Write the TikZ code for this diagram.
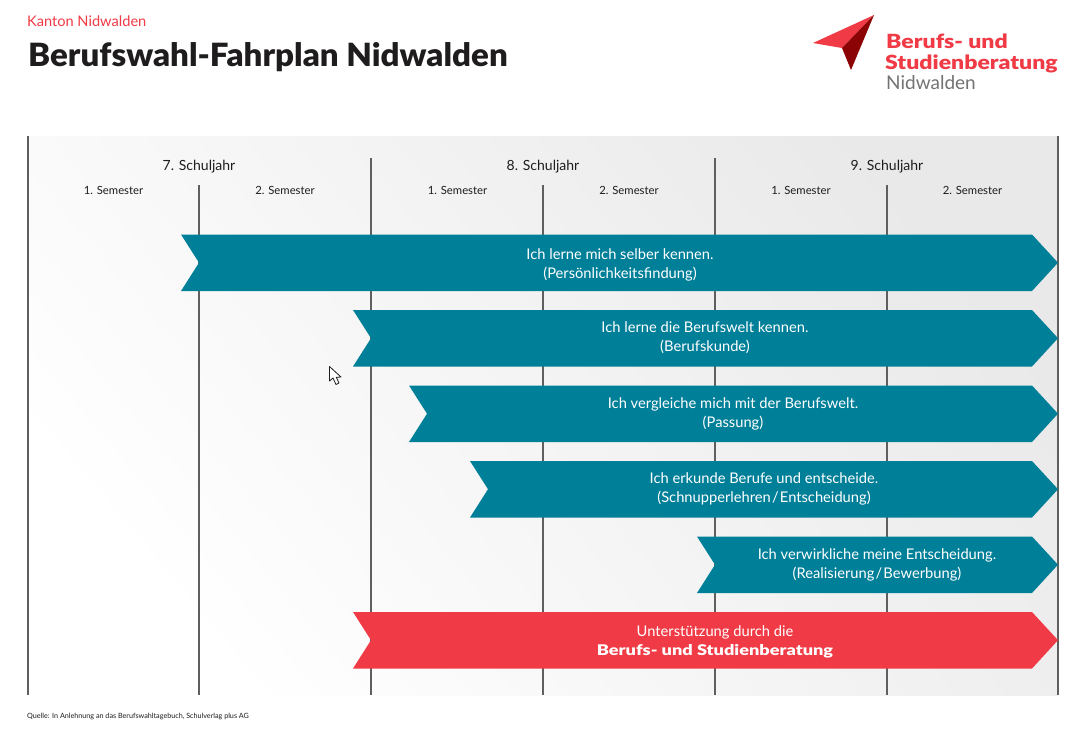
\documentclass[tikz,border=0pt]{standalone}
\usepackage{graphicx}
\usepackage{fontspec}
\setmainfont{Lato}
\newfontfamily\heavy{Lato Black}
\definecolor{teal1}{HTML}{007F99}
\definecolor{red1}{HTML}{F03A45}
\definecolor{red2}{HTML}{8B0304}
\definecolor{ink}{HTML}{1E1C1C}
\definecolor{rule1}{HTML}{5F5F5F}
\newcommand{\fs}[1]{\fontsize{#1}{19}\selectfont}
\tikzset{
  x=1pt,y=-1pt,
  vline/.style={draw=rule1,line width=1.4pt},
  hdr/.style={text=ink,font=\fs{14},inner sep=0pt,anchor=base},
  sem/.style={text=ink,font=\fs{11.3},inner sep=0pt,anchor=base},
  blab/.style={text=white,font=\fs{14.7},align=center,inner sep=0pt},
  bandT/.style={fill=teal1},
  bandR/.style={fill=red1},
  lefttxt/.style={inner sep=0pt,anchor=base west},
}
\newcommand{\band}[3]{% left x, top y, style
  \fill[#3] (#1,#2) -- (1032,#2) -- (1058,#2+28.2) -- (1032,#2+56.5) -- (#1,#2+56.5) -- (#1+18,#2+28.2) -- cycle;
}
\begin{document}
\begin{tikzpicture}
\useasboundingbox (0,0) rectangle (1090,740);
\fill[white] (0,0) rectangle (1090,740);
\shade[left color=white,right color=black!8.5,shading angle=130] (28,136) rectangle (1058,695);
% rules
\draw[vline] (28,136) -- (28,695);
\draw[vline] (1058,136) -- (1058,695);
\draw[vline] (371,158) -- (371,695);
\draw[vline] (715,158) -- (715,695);
\draw[vline,line width=1.2pt] (199,185) -- (199,695);
\draw[vline,line width=1.2pt] (543,185) -- (543,695);
\draw[vline,line width=1.2pt] (887,185) -- (887,695);
% heading
\node[lefttxt,text=red1,font=\fs{14.6}] (kanton) at (27,26) {Kanton Nidwalden};
\node[lefttxt,text=ink,font=\fs{32}\heavy] (title) at (28,66) {\scalebox{1.033}[1]{Berufswahl-Fahrplan Nidwalden}};
% logo
\fill[red1] (813,43) -- (874,15) -- (842,48) -- cycle;
\fill[red2] (874,15) -- (842,48) -- (851,70) -- cycle;
\node[lefttxt,text=red1,font=\fs{19.5}\heavy] (logoa) at (886,48) {\scalebox{1.18}[1]{Berufs- und}};
\node[lefttxt,text=red1,font=\fs{19.5}\heavy] (logob) at (885,69) {\scalebox{1.18}[1]{Studienberatung}};
\node[lefttxt,text=black!55,font=\fs{19}] (logoc) at (886,89) {Nidwalden};
% year headers
\node[hdr] (y7) at (199,170) {7. Schuljahr};
\node[hdr] (y8) at (543,170) {8. Schuljahr};
\node[hdr] (y9) at (887,170) {9. Schuljahr};
\node[sem] (s1) at (113.5,194) {1. Semester};
\node[sem] (s2) at (285,194) {2. Semester};
\node[sem] (s3) at (457.5,194) {1. Semester};
\node[sem] (s4) at (629,194) {2. Semester};
\node[sem] (s5) at (801,194) {1. Semester};
\node[sem] (s6) at (972.5,194) {2. Semester};
% bands
\band{181}{234.5}{bandT}
\band{353}{310}{bandT}
\band{409}{385.5}{bandT}
\band{470}{461}{bandT}
\band{697}{536.5}{bandT}
\band{353}{612}{bandR}
\node[blab] (b1) at (620,264.5) {Ich lerne mich selber kennen.\\(Persönlichkeitsfindung)};
\node[blab] (b2) at (705,338) {Ich lerne die Berufswelt kennen.\\(Berufskunde)};
\node[blab] (b3) at (733,413.5) {Ich vergleiche mich mit der Berufswelt.\\(Passung)};
\node[blab] (b4) at (764,489) {Ich erkunde Berufe und entscheide.\\(Schnupperlehren\kern1.2pt/\kern1.2pt Entscheidung)};
\node[blab] (b5) at (877,564.5) {Ich verwirkliche meine Entscheidung.\\(Realisierung\kern1.2pt/\kern1.2pt Bewerbung)};
\node[blab] (b6) at (715,642) {Unterstützung durch die\\{\heavy\scalebox{1.235}[1]{Berufs- und Studienberatung}}};
% cursor
\draw[fill=white,draw=ink,line width=0.8pt,line join=round] (329.5,366.5) -- (329.5,381) -- (333,378) -- (336,384.5) -- (339,383) -- (336.3,377.3) -- (341,377) -- cycle;
% source
\node[lefttxt,text=ink,font=\fs{7.2}] (src) at (27,718) {Quelle: In Anlehnung an das Berufswahltagebuch, Schulverlag plus AG};
\end{tikzpicture}
\end{document}
